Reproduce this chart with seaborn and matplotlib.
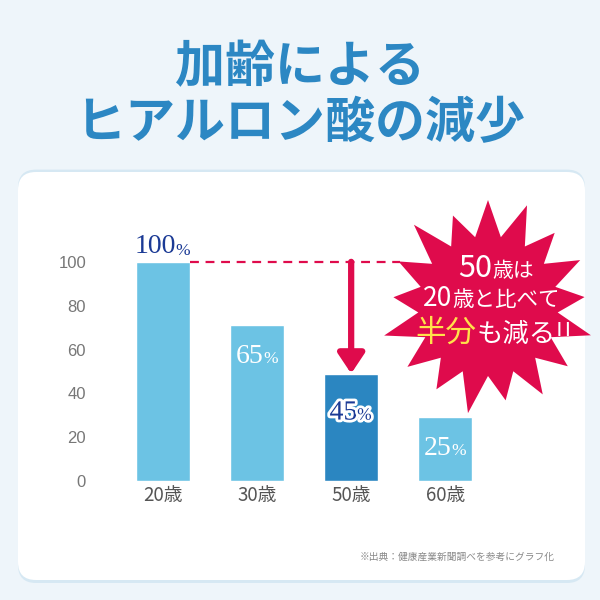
import numpy as np
import pandas as pd
import matplotlib
matplotlib.use("Agg")
import matplotlib.pyplot as plt
import seaborn as sns
from matplotlib.patches import FancyBboxPatch, Polygon
import matplotlib.patheffects as pe

# data
ages = ["20歳", "30歳", "50歳", "60歳"]
bar_heights = [100, 71, 49, 29]      # drawn bar heights (axis scale)
pct_labels = [100, 65, 45, 25]       # numbers printed on the bars
yticks = [0, 20, 40, 60, 80, 100]

title_lines = ["加齢による", "ヒアルロン酸の減少"]
source_note = "※出典：健康産業新聞調べを参考にグラフ化"

LIGHT = "#6CC3E4"
DARK = "#2B86C1"
NAVY = "#1B3A95"
RED = "#DF0B4C"
TITLE_BLUE = "#2C87C3"
BG = "#EEF5FA"

sns.set_theme(style="white")
plt.rcParams["font.family"] = ["Noto Sans CJK JP", "DejaVu Sans"]

fig = plt.figure(figsize=(6, 6), dpi=100)
fig.patch.set_facecolor(BG)


def fx(px):
    return px / 600


def fy(py):
    return 1 - py / 600


# white card with faint shadow
shadow = FancyBboxPatch((fx(18), fy(583)), fx(567), fy(172) - fy(583) + 0.004,
                        boxstyle="round,pad=0,rounding_size=0.03",
                        transform=fig.transFigure, facecolor="#D6E8F3",
                        edgecolor="none", zorder=-2)
fig.patches.append(shadow)
card = FancyBboxPatch((fx(18), fy(580)), fx(567), fy(172) - fy(580),
                      boxstyle="round,pad=0,rounding_size=0.03",
                      transform=fig.transFigure, facecolor="white",
                      edgecolor="none", zorder=-1)
fig.patches.append(card)

# title
fig.text(0.5, fy(68), title_lines[0], ha="center", va="center",
         fontsize=36, fontweight="bold", color=TITLE_BLUE)
fig.text(0.5, fy(124), title_lines[1], ha="center", va="center",
         fontsize=36, fontweight="bold", color=TITLE_BLUE)

# bar axes: y=0 at px 481, y=120 at px 218
ax = fig.add_axes([fx(100), fy(481), fx(460), (481 - 218) / 600])
ax.patch.set_alpha(0)
ax.set_zorder(1)

df = pd.DataFrame({"age": ages, "value": bar_heights})
palette = {a: (DARK if a == "50歳" else LIGHT) for a in ages}
sns.barplot(data=df, x="age", y="value", hue="age", palette=palette,
            width=0.57, legend=False, saturation=1, ax=ax)

ax.set_xlim(-0.67, 4.22)
ax.set_ylim(0, 120)
ax.set_yticks(yticks)
ax.set_yticklabels([str(t) for t in yticks], color="#777777", fontsize=12,
                   family=["Liberation Sans", "DejaVu Sans"])
ax.tick_params(axis="y", length=0, pad=10)
ax.tick_params(axis="x", length=0, pad=3, labelsize=13.5, labelcolor="#555555")
ax.set_xlabel("")
ax.set_ylabel("")
sns.despine(ax=ax, left=True, bottom=True)
ax.grid(False)

# percentage labels
serif = ["Liberation Serif", "DejaVu Serif"]
for i, (h, p) in enumerate(zip(bar_heights, pct_labels)):
    num = str(p)
    total = len(num) * 13.5 + 15
    split = i + (len(num) * 13.5 - total / 2) / 94
    if i == 0:
        y, va, col, eff = h + 1.5, "bottom", NAVY, None
    elif i == 2:
        y, va, col = h - 18, "center", NAVY
        eff = [pe.withStroke(linewidth=4, foreground="white")]
    else:
        y, va, col, eff = h - 14, "center", "white", None
    t1 = ax.text(split, y, num, ha="right", va=va, fontsize=20, color=col,
                 family=serif, zorder=5)
    t2 = ax.text(split, y if va == "bottom" else y - 1.2, "%", ha="left", va=va,
                 fontsize=12.5, color=col, family=serif, zorder=5)
    if eff:
        t1.set_path_effects(eff)
        t2.set_path_effects(eff)

# dashed reference line and arrow
ax.plot([0.285, 2.52], [100, 100], color=RED, lw=1.6, ls=(0, (4, 3)), zorder=3)
ax.annotate("", xy=(2, bar_heights[2]), xytext=(2, 100),
            arrowprops=dict(arrowstyle="-|>,head_length=0.6,head_width=0.4",
                            color=RED, lw=4.5, mutation_scale=20,
                            shrinkA=0, shrinkB=0), zorder=4)

# starburst callout
cx, cy = 488, 306
n = 17
outer = [106, 97, 110, 100, 95, 108, 101, 98, 109, 96, 104, 100, 107, 97, 103, 99, 108]
inner = 70
pts = []
for k in range(n):
    a0 = np.pi / 2 + 2 * np.pi * k / n
    a1 = a0 + np.pi / n
    pts.append((fx(cx + outer[k] * np.cos(a0)), fy(cy - outer[k] * np.sin(a0))))
    pts.append((fx(cx + inner * np.cos(a1)), fy(cy - inner * np.sin(a1))))
star = Polygon(pts, closed=True, transform=fig.transFigure, facecolor=RED,
               edgecolor="none", zorder=6)
fig.patches.append(star)

fig.canvas.draw()
renderer = fig.canvas.get_renderer()


def segments(xc, ypx, parts):
    texts = []
    widths = []
    for s, size, col in parts:
        t = fig.text(0, fy(ypx), s, fontsize=size, color=col, ha="left",
                     va="baseline", zorder=7)
        widths.append(t.get_window_extent(renderer).width)
        texts.append(t)
    x = xc - sum(widths) / 2
    for t, w in zip(texts, widths):
        t.set_x(fx(x))
        x += w


segments(496, 277, [("50", 22, "white"), ("歳は", 15, "white")])
segments(491, 306, [("20", 19, "white"), ("歳と比べて", 15.5, "white")])
segments(494, 342, [("半分", 22, "#FFE24A"), ("も減る!!", 19, "white")])

fig.text(fx(555), fy(557), source_note, ha="right", va="center",
         fontsize=7, color="#888888")

fig.savefig("out.png", dpi=100, facecolor=fig.get_facecolor())
